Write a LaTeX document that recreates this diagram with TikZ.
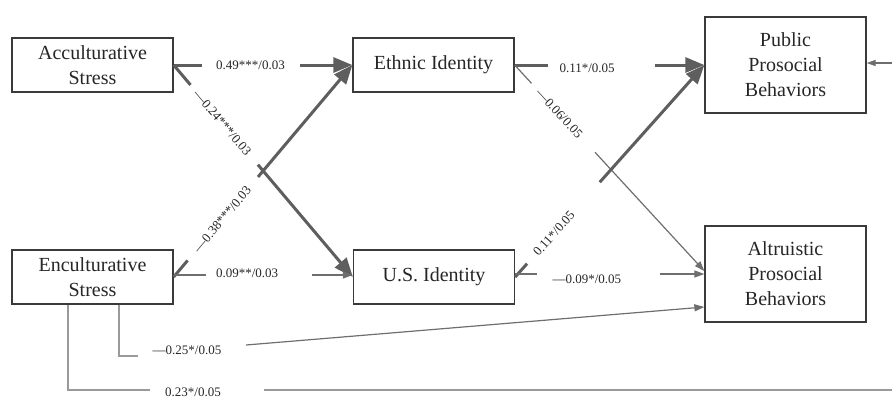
\documentclass[tikz,border=0pt]{standalone}
\usepackage{fontspec}
\setmainfont{Liberation Serif}
\usetikzlibrary{arrows.meta,calc}
\definecolor{boxc}{HTML}{3A3A3A}
\definecolor{heavyc}{HTML}{5E5E5E}
\definecolor{thinc}{HTML}{6E6E6E}
\definecolor{faintc}{HTML}{9A9A9A}
\begin{document}
\begin{tikzpicture}[x=1pt,y=-1pt,
  box/.style={draw=boxc,line width=1.3pt,minimum width=161pt,align=center,
    font=\fontsize{20}{25}\selectfont,text=black!85,inner sep=0pt},
  lab/.style={font=\fontsize{13}{15}\selectfont,text=black!85,inner sep=0pt},
  heavy/.style={draw=heavyc,line width=3pt},
  heavyarrow/.style={heavy,-{Triangle[length=19pt,width=15pt]}},
  light/.style={draw=thinc,line width=1.2pt},
  lightarrow/.style={light,-{Triangle[length=10pt,width=7pt]}},
  faint/.style={draw=faintc,line width=1.3pt},
]
\useasboundingbox (0,0) rectangle (892,397);

% boxes
\node[box,minimum height=54pt] (A) at (92.5,65) {Acculturative\\Stress};
\node[box,minimum height=54pt] (E) at (433.5,65) {Ethnic Identity};
\node[box,minimum height=96pt] (P) at (785.5,65) {Public\\Prosocial\\Behaviors};
\node[box,minimum height=54pt] (N) at (92.5,277) {Enculturative\\Stress};
\node[box,minimum height=54pt] (U) at (434,277) {U.S. Identity};
\node[box,minimum height=96pt] (L) at (785.5,274) {Altruistic\\Prosocial\\Behaviors};

% helper coordinates
\coordinate (Uout) at ($(U.east)+(0,-3)$);
\coordinate (Lin1) at ($(L.west)+(0,-3)$);
\coordinate (Lin3) at ($(L.west)+(0,33)$);
\coordinate (Nout) at ($(N.east)+(0,-2)$);
\coordinate (Uin) at ($(U.west)+(0,-2)$);

% 1 Acculturative -> Ethnic
\draw[heavy] (A.east) -- ($(A.east)!0.161!(E.west)$);
\draw[heavyarrow] ($(A.east)!0.706!(E.west)$) -- (E.west);
\path (A.east) -- (E.west) node[lab,pos=0.43] (l1) {0.49***/0.03};

% 2 Acculturative -> U.S.
\draw[heavy] (A.east) -- ($(A.east)!0.094!(U.west)$);
\draw[heavyarrow] ($(A.east)!0.47!(U.west)$) -- (U.west);
\path (A.east) -- (U.west) node[lab,sloped,pos=0.272] (l2) {—0.24***/0.03};

% 3 Enculturative -> Ethnic
\draw[heavy] (N.east) -- ($(N.east)!0.078!(E.west)$);
\draw[heavyarrow] ($(N.east)!0.472!(E.west)$) -- (E.west);
\path (N.east) -- (E.west) node[lab,sloped,pos=0.272] (l3) {—0.38***/0.03};

% 4 Ethnic -> Public
\draw[heavy] (E.east) -- ($(E.east)!0.178!(P.west)$);
\draw[heavyarrow] ($(E.east)!0.738!(P.west)$) -- (P.west);
\path (E.east) -- (P.west) node[lab,pos=0.382,yshift=-3pt] (l4) {0.11*/0.05};

% 5 Ethnic -> Altruistic
\draw[light] (E.east) -- ($(E.east)!0.089!(Lin1)$);
\draw[lightarrow] ($(E.east)!0.424!(Lin1)$) -- (Lin1);
\path (E.east) -- (Lin1) node[lab,sloped,pos=0.236] (l5) {—0.06/0.05};

% 6 U.S. -> Public
\draw[heavy] (U.east) -- ($(U.east)!0.063!(P.west)$);
\draw[heavyarrow] ($(U.east)!0.447!(P.west)$) -- (P.west);
\path (U.east) -- (P.west) node[lab,sloped,pos=0.205] (l6) {0.11*/0.05};

% 7 U.S. -> Altruistic
\draw[light] (Uout) -- ($(Uout)!0.116!(L.west)$);
\draw[lightarrow] ($(Uout)!0.763!(L.west)$) -- (L.west);
\path (Uout) -- (L.west) node[lab,pos=0.379,yshift=-5pt] (l7) {—0.09*/0.05};

% 8 Enculturative -> U.S.
\draw[light] (Nout) -- ($(Nout)!0.178!(Uin)$);
\draw[lightarrow] ($(Nout)!0.772!(Uin)$) -- (Uin);
\path (Nout) -- (Uin) node[lab,pos=0.41,yshift=2pt] (l8) {0.09**/0.03};

% 9 Enculturative -> Altruistic (elbow)
\coordinate (n9a) at (119,356);
\coordinate (n9b) at (138,356);
\coordinate (n9c) at (246,345);
\draw[faint] (N.south -| n9a) -- (n9a) -- (n9b);
\node[lab] (l9) at (187,350) {—0.25*/0.05};
\draw[lightarrow] (n9c) -- (Lin3);

% 10 Enculturative -> (off picture, returns into Public)
\coordinate (n10a) at (68,390);
\coordinate (n10b) at (150,390);
\coordinate (n10c) at (264,390);
\coordinate (n10d) at (892,390);
\draw[faint] (N.south -| n10a) -- (n10a) -- (n10b);
\node[lab,anchor=north] (l10) at (193,387.5) {0.23*/0.05};
\draw[faint] (n10c) -- (n10d);

% 11 return arrow into Public
\coordinate (pin) at (892,63);
\draw[faint,draw=thinc,-{Triangle[length=9pt,width=6pt]}] (pin) -- (P.east |- pin);
\end{tikzpicture}
\end{document}
